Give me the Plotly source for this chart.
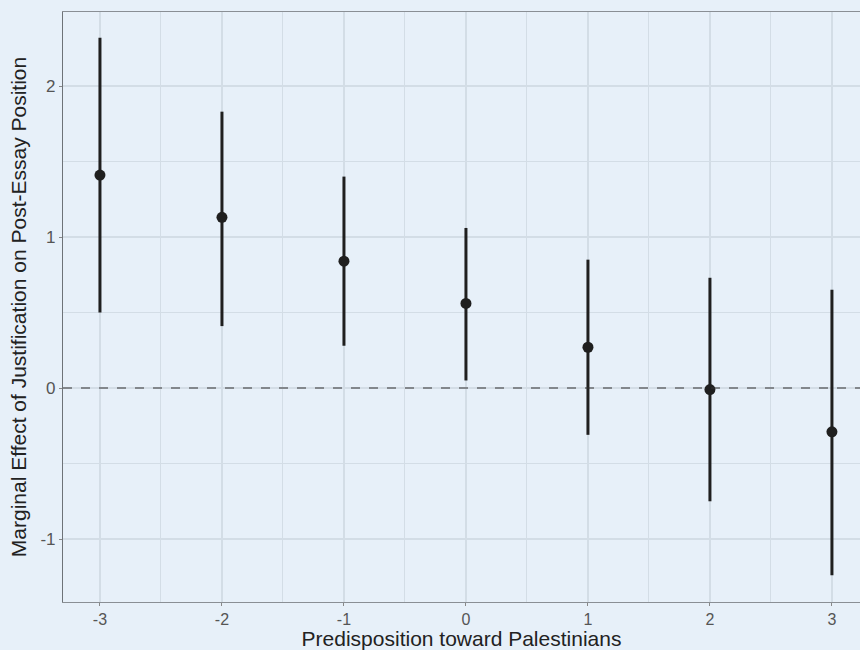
import plotly.graph_objects as go

predisposition = [-3, -2, -1, 0, 1, 2, 3]
effect = [1.41, 1.13, 0.84, 0.56, 0.27, -0.01, -0.29]
upper = [2.32, 1.83, 1.40, 1.06, 0.85, 0.73, 0.65]
lower = [0.50, 0.41, 0.28, 0.05, -0.31, -0.75, -1.24]

x_ticks = [-3, -2, -1, 0, 1, 2, 3]
y_ticks = [-1, 0, 1, 2]

BG = "#E7F0F9"
GRID = "#D3DDE6"
DARK = "#1F1F1F"

fig = go.Figure()

seg_x, seg_y = [], []
for xv, lo, hi in zip(predisposition, lower, upper):
    seg_x += [xv, xv, None]
    seg_y += [lo, hi, None]
fig.add_trace(go.Scatter(x=seg_x, y=seg_y, mode="lines",
                         line=dict(color=DARK, width=3), hoverinfo="skip",
                         showlegend=False))
fig.add_trace(go.Scatter(x=predisposition, y=effect, mode="markers",
                         marker=dict(color=DARK, size=11), showlegend=False))

fig.add_shape(type="line", xref="paper", yref="y", x0=0, x1=1, y0=0, y1=0,
              line=dict(color="#333333", width=1.2, dash="dash"), layer="above")

fig.update_layout(
    width=860, height=650,
    margin=dict(l=63, r=0, t=12, b=48),
    paper_bgcolor=BG, plot_bgcolor=BG,
    font=dict(family="Liberation Sans, Arial, sans-serif", color="#4D4D4D", size=16),
    showlegend=False,
)
fig.update_xaxes(
    range=[-3.303, 3.23], tickvals=x_ticks, ticktext=[str(v) for v in x_ticks],
    showgrid=True, gridcolor=GRID, gridwidth=1.5,
    minor=dict(dtick=0.5, tick0=-3.5, showgrid=True, gridcolor=GRID, gridwidth=0.8),
    ticks="outside", ticklen=3, tickcolor="#888888", tickwidth=1,
    showline=True, linecolor="#8A8F95", linewidth=1.2, mirror=True,
    zeroline=False,
    tickfont=dict(size=16, color="#555555"),
    title=dict(text="Predisposition toward Palestinians",
               font=dict(size=21, color="#222222"), standoff=0),
)
fig.update_yaxes(
    range=[-1.417, 2.49], tickvals=y_ticks, ticktext=[str(v) for v in y_ticks],
    showgrid=True, gridcolor=GRID, gridwidth=1.5,
    minor=dict(dtick=0.5, tick0=-1.5, showgrid=True, gridcolor=GRID, gridwidth=0.8),
    ticks="outside", ticklen=3, tickcolor="#888888", tickwidth=1,
    showline=True, linecolor="#6E7378", linewidth=1.2, mirror=True,
    zeroline=False,
    tickfont=dict(size=17, color="#555555"),
    title=dict(text="Marginal Effect of Justification on Post-Essay Position",
               font=dict(size=21, color="#222222"), standoff=8),
)

fig.write_html("out.html", config={"displayModeBar": False},
               post_script="document.body.style.margin='0';document.body.style.padding='0';")
